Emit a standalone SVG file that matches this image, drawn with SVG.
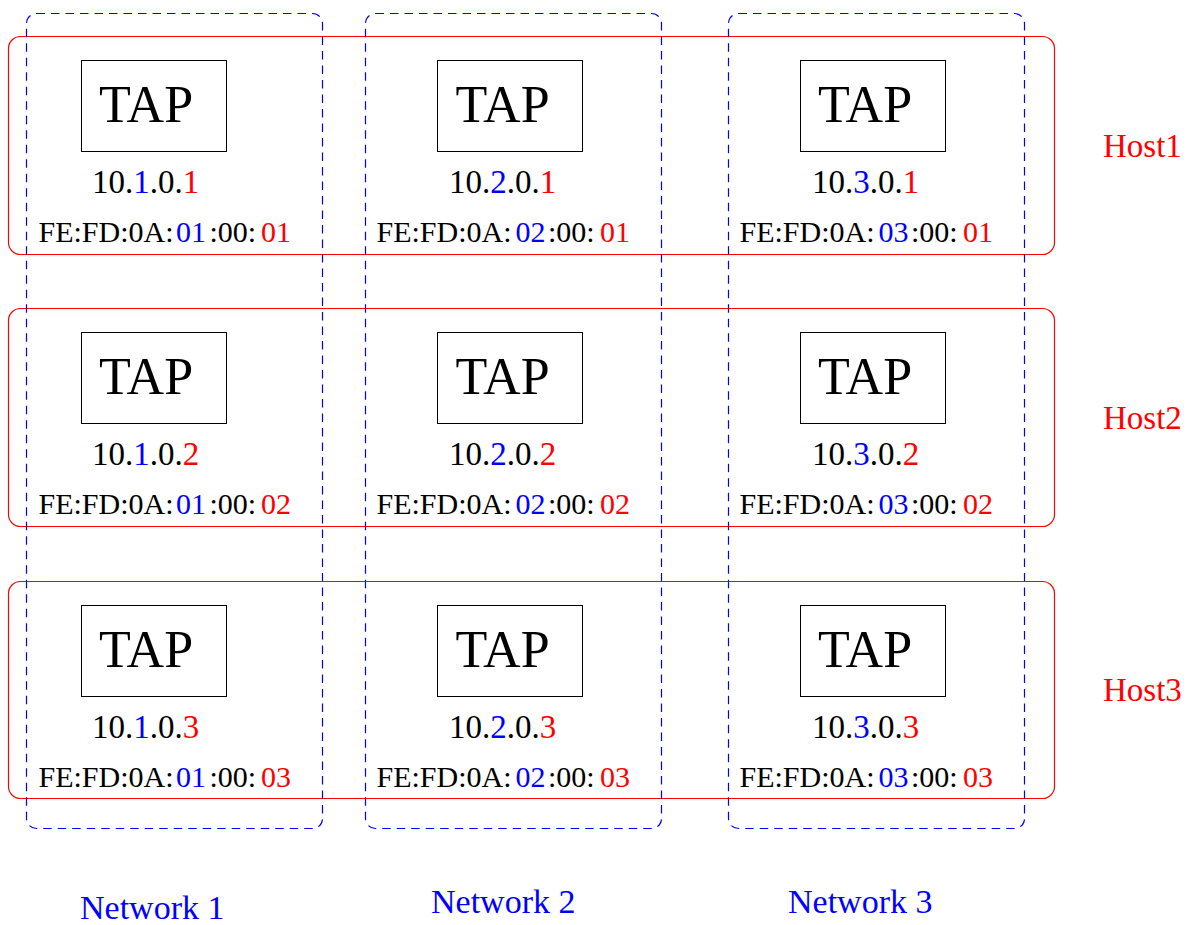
<svg xmlns="http://www.w3.org/2000/svg" width="1193" height="925" viewBox="0 0 1193 925">
  <style>
    text { font-family: "Liberation Serif", "Times New Roman", serif; fill: #000; }
    .net { fill: none; stroke: #0000ff; stroke-width: 1.2; stroke-dasharray: 8.5 6; }
    .host { fill: none; stroke: #ff0000; stroke-width: 1.2; }
    .tap { fill: #fff; stroke: #000; stroke-width: 1; }
    .tapLabel { font-size: 52px; }
    .ip { font-size: 33px; }
    .mac { font-size: 30px; }
    .b { fill: #0000ff; }
    .r { fill: #ff0000; }
    .hostLabel { font-size: 33px; fill: #ff0000; }
    .netLabel { font-size: 34px; fill: #0000ff; }
  </style>

  <!-- Host frames (one per row) -->
  <g id="host1"><rect class="host" x="8.5" y="36.5" width="1046" height="218" rx="12"/><text class="hostLabel" x="1103" y="157">Host1</text></g>
  <g id="host2"><rect class="host" x="8.5" y="308.5" width="1046" height="218" rx="12"/><text class="hostLabel" x="1103" y="429">Host2</text></g>
  <g id="host3"><rect class="host" x="8.5" y="581.5" width="1046" height="217" rx="12"/><text class="hostLabel" x="1103" y="701">Host3</text></g>

  <!-- TAP interfaces, column = network, row = host -->
  <g id="tap-1-1"><rect class="tap" x="81.5" y="60.5" width="145" height="91"/><text class="tapLabel" x="99" y="122">TAP</text>
    <text class="ip" x="92" y="193">10.<tspan class="b">1</tspan>.0.<tspan class="r">1</tspan></text>
    <text class="mac" y="242"><tspan x="38.5">FE:FD:0A:</tspan><tspan class="b" x="176">01</tspan><tspan x="209.5">:00:</tspan><tspan class="r" x="261">01</tspan></text></g>
  <g id="tap-2-1"><rect class="tap" x="437.5" y="60.5" width="145" height="91"/><text class="tapLabel" x="455.5" y="122">TAP</text>
    <text class="ip" x="449" y="193">10.<tspan class="b">2</tspan>.0.<tspan class="r">1</tspan></text>
    <text class="mac" y="242"><tspan x="376.5">FE:FD:0A:</tspan><tspan class="b" x="515.5">02</tspan><tspan x="548">:00:</tspan><tspan class="r" x="600">01</tspan></text></g>
  <g id="tap-3-1"><rect class="tap" x="800.5" y="60.5" width="145" height="91"/><text class="tapLabel" x="818" y="122">TAP</text>
    <text class="ip" x="812" y="193">10.<tspan class="b">3</tspan>.0.<tspan class="r">1</tspan></text>
    <text class="mac" y="242"><tspan x="739.5">FE:FD:0A:</tspan><tspan class="b" x="878.5">03</tspan><tspan x="911">:00:</tspan><tspan class="r" x="963">01</tspan></text></g>

  <g id="tap-1-2"><rect class="tap" x="81.5" y="332.5" width="145" height="91"/><text class="tapLabel" x="99" y="394">TAP</text>
    <text class="ip" x="92" y="465">10.<tspan class="b">1</tspan>.0.<tspan class="r">2</tspan></text>
    <text class="mac" y="514"><tspan x="38.5">FE:FD:0A:</tspan><tspan class="b" x="176">01</tspan><tspan x="209.5">:00:</tspan><tspan class="r" x="261">02</tspan></text></g>
  <g id="tap-2-2"><rect class="tap" x="437.5" y="332.5" width="145" height="91"/><text class="tapLabel" x="455.5" y="394">TAP</text>
    <text class="ip" x="449" y="465">10.<tspan class="b">2</tspan>.0.<tspan class="r">2</tspan></text>
    <text class="mac" y="514"><tspan x="376.5">FE:FD:0A:</tspan><tspan class="b" x="515.5">02</tspan><tspan x="548">:00:</tspan><tspan class="r" x="600">02</tspan></text></g>
  <g id="tap-3-2"><rect class="tap" x="800.5" y="332.5" width="145" height="91"/><text class="tapLabel" x="818" y="394">TAP</text>
    <text class="ip" x="812" y="465">10.<tspan class="b">3</tspan>.0.<tspan class="r">2</tspan></text>
    <text class="mac" y="514"><tspan x="739.5">FE:FD:0A:</tspan><tspan class="b" x="878.5">03</tspan><tspan x="911">:00:</tspan><tspan class="r" x="963">02</tspan></text></g>

  <g id="tap-1-3"><rect class="tap" x="81.5" y="605.5" width="145" height="91"/><text class="tapLabel" x="99" y="667">TAP</text>
    <text class="ip" x="92" y="738">10.<tspan class="b">1</tspan>.0.<tspan class="r">3</tspan></text>
    <text class="mac" y="787"><tspan x="38.5">FE:FD:0A:</tspan><tspan class="b" x="176">01</tspan><tspan x="209.5">:00:</tspan><tspan class="r" x="261">03</tspan></text></g>
  <g id="tap-2-3"><rect class="tap" x="437.5" y="605.5" width="145" height="91"/><text class="tapLabel" x="455.5" y="667">TAP</text>
    <text class="ip" x="449" y="738">10.<tspan class="b">2</tspan>.0.<tspan class="r">3</tspan></text>
    <text class="mac" y="787"><tspan x="376.5">FE:FD:0A:</tspan><tspan class="b" x="515.5">02</tspan><tspan x="548">:00:</tspan><tspan class="r" x="600">03</tspan></text></g>
  <g id="tap-3-3"><rect class="tap" x="800.5" y="605.5" width="145" height="91"/><text class="tapLabel" x="818" y="667">TAP</text>
    <text class="ip" x="812" y="738">10.<tspan class="b">3</tspan>.0.<tspan class="r">3</tspan></text>
    <text class="mac" y="787"><tspan x="739.5">FE:FD:0A:</tspan><tspan class="b" x="878.5">03</tspan><tspan x="911">:00:</tspan><tspan class="r" x="963">03</tspan></text></g>

  <!-- Network frames (one per column), dashed blue -->
  <g id="network1"><rect class="net" x="26.5" y="13.5" width="296" height="815" rx="10"/><text class="netLabel" x="80" y="919">Network 1</text></g>
  <g id="network2"><rect class="net" x="365.5" y="13.5" width="296" height="815" rx="10"/><text class="netLabel" x="431" y="913">Network 2</text></g>
  <g id="network3"><rect class="net" x="728.5" y="13.5" width="296" height="815" rx="10"/><text class="netLabel" x="788" y="913">Network 3</text></g>
</svg>
